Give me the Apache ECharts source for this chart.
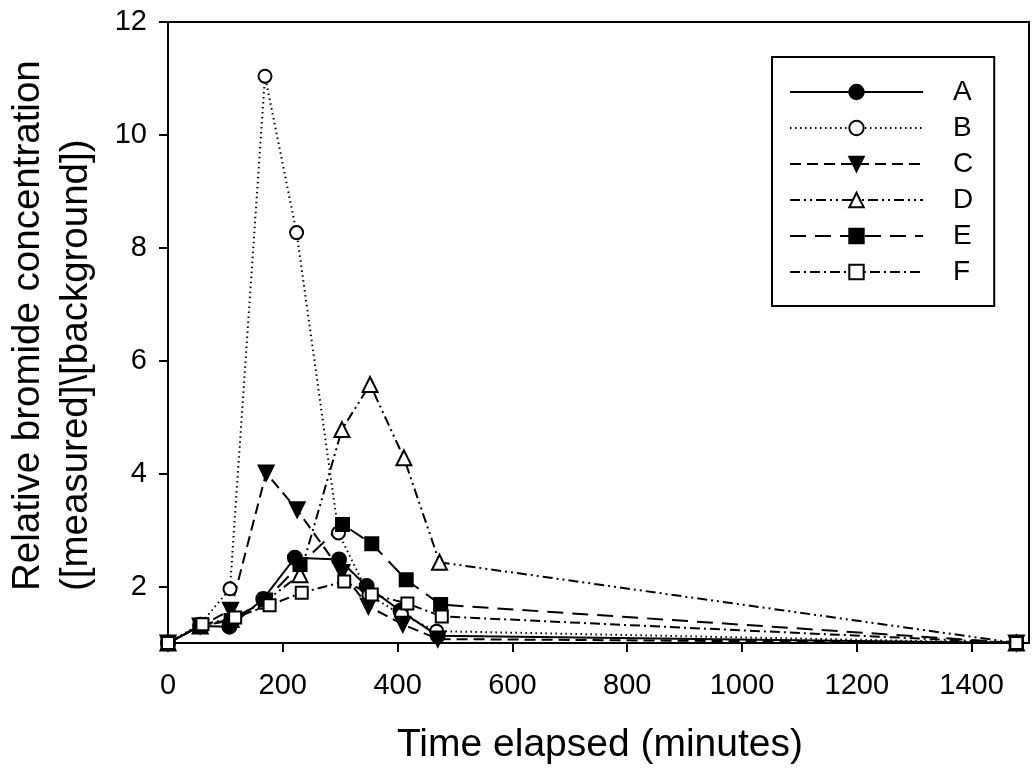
<!DOCTYPE html>
<html>
<head>
<meta charset="utf-8">
<script src="https://cdn.jsdelivr.net/npm/echarts@6/dist/echarts.min.js"></script>
<style>
  html, body { margin: 0; padding: 0; background: #fff; }
  #chart { width: 1032px; height: 768px; }
</style>
</head>
<body>
<div id="chart"></div>
<script>
// bromide breakthrough curves
const names = ['A', 'B', 'C', 'D', 'E', 'F']

const timeA = [0, 56, 107, 166, 221, 298, 346, 405, 470, 1478]
const valA = [1, 1.3, 1.29, 1.78, 2.51, 2.48, 2.01, 1.57, 1.13, 1]

const timeB = [0, 56, 108, 169, 224, 297, 350, 407, 468, 1478]
const valB = [1, 1.33, 1.96, 11.04, 8.27, 2.95, 1.85, 1.5, 1.21, 1]

const timeC = [0, 56, 109, 171, 225, 303, 349, 409, 470, 1478]
const valC = [1, 1.3, 1.58, 4.01, 3.36, 2.25, 1.65, 1.33, 1.07, 1]

const timeD = [0, 56, 110, 170, 230, 303, 352, 411, 473, 1478]
const valD = [1, 1.3, 1.42, 1.74, 2.21, 4.78, 5.58, 4.28, 2.43, 1]

const timeE = [0, 56, 110, 170, 230, 304, 355, 415, 475, 1478]
const valE = [1, 1.3, 1.4, 1.76, 2.39, 3.1, 2.76, 2.12, 1.68, 1]

const timeF = [0, 60, 117, 177, 233, 307, 355, 417, 477, 1478]
const valF = [1, 1.33, 1.45, 1.67, 1.89, 2.09, 1.86, 1.7, 1.47, 1]

const xTicks = [0, 200, 400, 600, 800, 1000, 1200, 1400]
const yTicks = [2, 4, 6, 8, 10, 12]

const font = '"Liberation Sans", Arial, sans-serif'

const pairs = (t, v) => t.map((x, i) => [x, v[i]])

const looks = {
  A: { symbol: 'circle', size: 14, fill: '#000', dash: 'solid' },
  B: { symbol: 'circle', size: 13, fill: '#fff', dash: [1.5, 3.5] },
  C: { symbol: 'triangle', size: 15, fill: '#000', dash: [11, 6], rotate: 180 },
  D: { symbol: 'triangle', size: 15, fill: '#fff', dash: [10, 4, 2, 4, 2, 4] },
  E: { symbol: 'rect', size: 13, fill: '#000', dash: [16, 9] },
  F: { symbol: 'rect', size: 12, fill: '#fff', dash: [10, 4, 2, 4] }
}

const allData = {
  A: pairs(timeA, valA),
  B: pairs(timeB, valB),
  C: pairs(timeC, valC),
  D: pairs(timeD, valD),
  E: pairs(timeE, valE),
  F: pairs(timeF, valF)
}

const series = names.map(n => {
  const lk = looks[n]
  return {
    name: n,
    type: 'line',
    data: allData[n],
    symbol: lk.symbol,
    symbolSize: lk.size,
    symbolRotate: lk.rotate || 0,
    showAllSymbol: true,
    animation: false,
    lineStyle: { color: '#000', width: 2, type: lk.dash },
    itemStyle: { color: lk.fill, borderColor: '#000', borderWidth: 2 }
  }
})

const myChart = echarts.init(document.getElementById('chart'))
myChart.setOption({
  backgroundColor: '#fff',
  animation: false,
  grid: {
    left: 168, right: 3, top: 22, bottom: 125,
    show: true, borderColor: '#000', borderWidth: 2, backgroundColor: 'transparent'
  },
  legend: {
    data: names,
    orient: 'vertical',
    left: 772,
    top: 57,
    itemWidth: 133,
    itemHeight: 18,
    itemGap: 6,
    padding: [20, 21, 19, 17],
    borderColor: '#000',
    borderWidth: 2,
    borderRadius: 0,
    textStyle: { color: '#000', fontSize: 28, lineHeight: 30, fontFamily: font, padding: [0, 0, 0, 25] }
  },
  xAxis: {
    type: 'value',
    min: 0,
    max: 1500,
    splitLine: { show: false },
    axisLine: { lineStyle: { color: '#000', width: 2 } },
    axisTick: { customValues: xTicks, length: 9, lineStyle: { color: '#000', width: 2 } },
    axisLabel: { customValues: xTicks, formatter: v => String(v), color: '#000', fontSize: 29, fontFamily: font, margin: 28 }
  },
  yAxis: {
    type: 'value',
    min: 1,
    max: 12,
    splitLine: { show: false },
    axisLine: { lineStyle: { color: '#000', width: 2 } },
    axisTick: { customValues: yTicks, length: 9, lineStyle: { color: '#000', width: 2 } },
    axisLabel: { customValues: yTicks, formatter: v => String(v), color: '#000', fontSize: 29, fontFamily: font, margin: 21 }
  },
  graphic: [
    {
      type: 'text', x: 600, y: 745,
      style: { text: 'Time elapsed (minutes)', fontSize: 39, fontFamily: font, fill: '#000', textAlign: 'center', textVerticalAlign: 'middle' }
    },
    {
      type: 'text', x: 28, y: 591, rotation: Math.PI / 2,
      style: { text: 'Relative bromide concentration', fontSize: 38.5, fontFamily: font, fill: '#000', textAlign: 'left', textVerticalAlign: 'middle' }
    },
    {
      type: 'text', x: 76, y: 591, rotation: Math.PI / 2,
      style: { text: '([measured]\\[background])', fontSize: 38.5, fontFamily: font, fill: '#000', textAlign: 'left', textVerticalAlign: 'middle' }
    }
  ],
  series: series
})
</script>
</body>
</html>
